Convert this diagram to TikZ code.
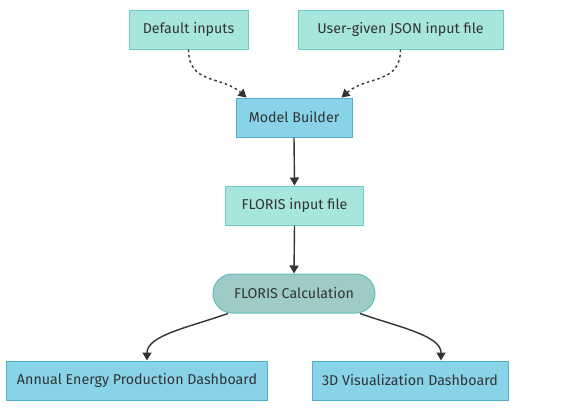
\documentclass[tikz,border=0pt]{standalone}
\usepackage{fontspec}
\setmainfont{Fira Sans}
\usetikzlibrary{arrows.meta,shapes.misc}
\definecolor{tealfill}{HTML}{A6E6DC}
\definecolor{tealdraw}{HTML}{6CCBC4}
\definecolor{bluefill}{HTML}{88D3E8}
\definecolor{bluedraw}{HTML}{4FAFCB}
\definecolor{calcfill}{HTML}{9ECBC8}
\definecolor{calcdraw}{HTML}{62BDB8}
\definecolor{ink}{HTML}{333333}
\tikzset{
  base/.style={font=\fontsize{14.3}{17}\selectfont, text=ink, line width=1bp, inner sep=0pt, anchor=center},
  tealbox/.style={base, draw=tealdraw, fill=tealfill, rectangle},
  bluebox/.style={base, draw=bluedraw, fill=bluefill, rectangle},
  calcbox/.style={base, draw=calcdraw, fill=calcfill, rounded rectangle},
  link/.style={draw=ink, line width=1.4bp, -{Triangle[length=8bp,width=9bp]}},
  dotlink/.style={link, dash pattern=on 2.5bp off 3bp},
}
\begin{document}
\begin{tikzpicture}[x=1bp,y=-1bp]
\useasboundingbox (0,0) rectangle (563,411);
\node[tealbox, minimum width=119bp, minimum height=39bp] (def) at (188.5,29.5) {Default inputs};
\node[tealbox, minimum width=205bp, minimum height=39bp] (user) at (400.5,29.5) {User-given JSON input file};
\node[bluebox, minimum width=116bp, minimum height=39bp] (mb) at (294,117.5) {Model Builder};
\node[tealbox, minimum width=138bp, minimum height=39bp] (fin) at (294.5,205.5) {FLORIS input file};
\node[calcbox, minimum width=162bp, minimum height=39bp] (calc) at (294,293.5) {FLORIS Calculation};
\node[bluebox, minimum width=260bp, minimum height=39bp] (aep) at (137,380.5) {Annual Energy Production Dashboard};
\node[bluebox, minimum width=196bp, minimum height=39bp] (viz) at (410,380.5) {3D Visualization Dashboard};

\draw[dotlink] (def.south) .. controls ++(0,35) and ++(-25,-22) .. ([xshift=11bp]mb.north west);
\draw[dotlink] (user.south) .. controls ++(0,35) and ++(25,-22) .. ([xshift=-11bp]mb.north east);
\draw[link] (mb.south) -- (fin.north);
\draw[link] (fin.south) -- (calc.north);
\draw[link] ([xshift=-66bp]calc.south) .. controls ++(-40,14) and ++(0,-25) .. ([xshift=10bp]aep.north);
\draw[link] ([xshift=66bp]calc.south) .. controls ++(40,14) and ++(0,-25) .. ([xshift=31bp]viz.north);
\end{tikzpicture}
\end{document}
